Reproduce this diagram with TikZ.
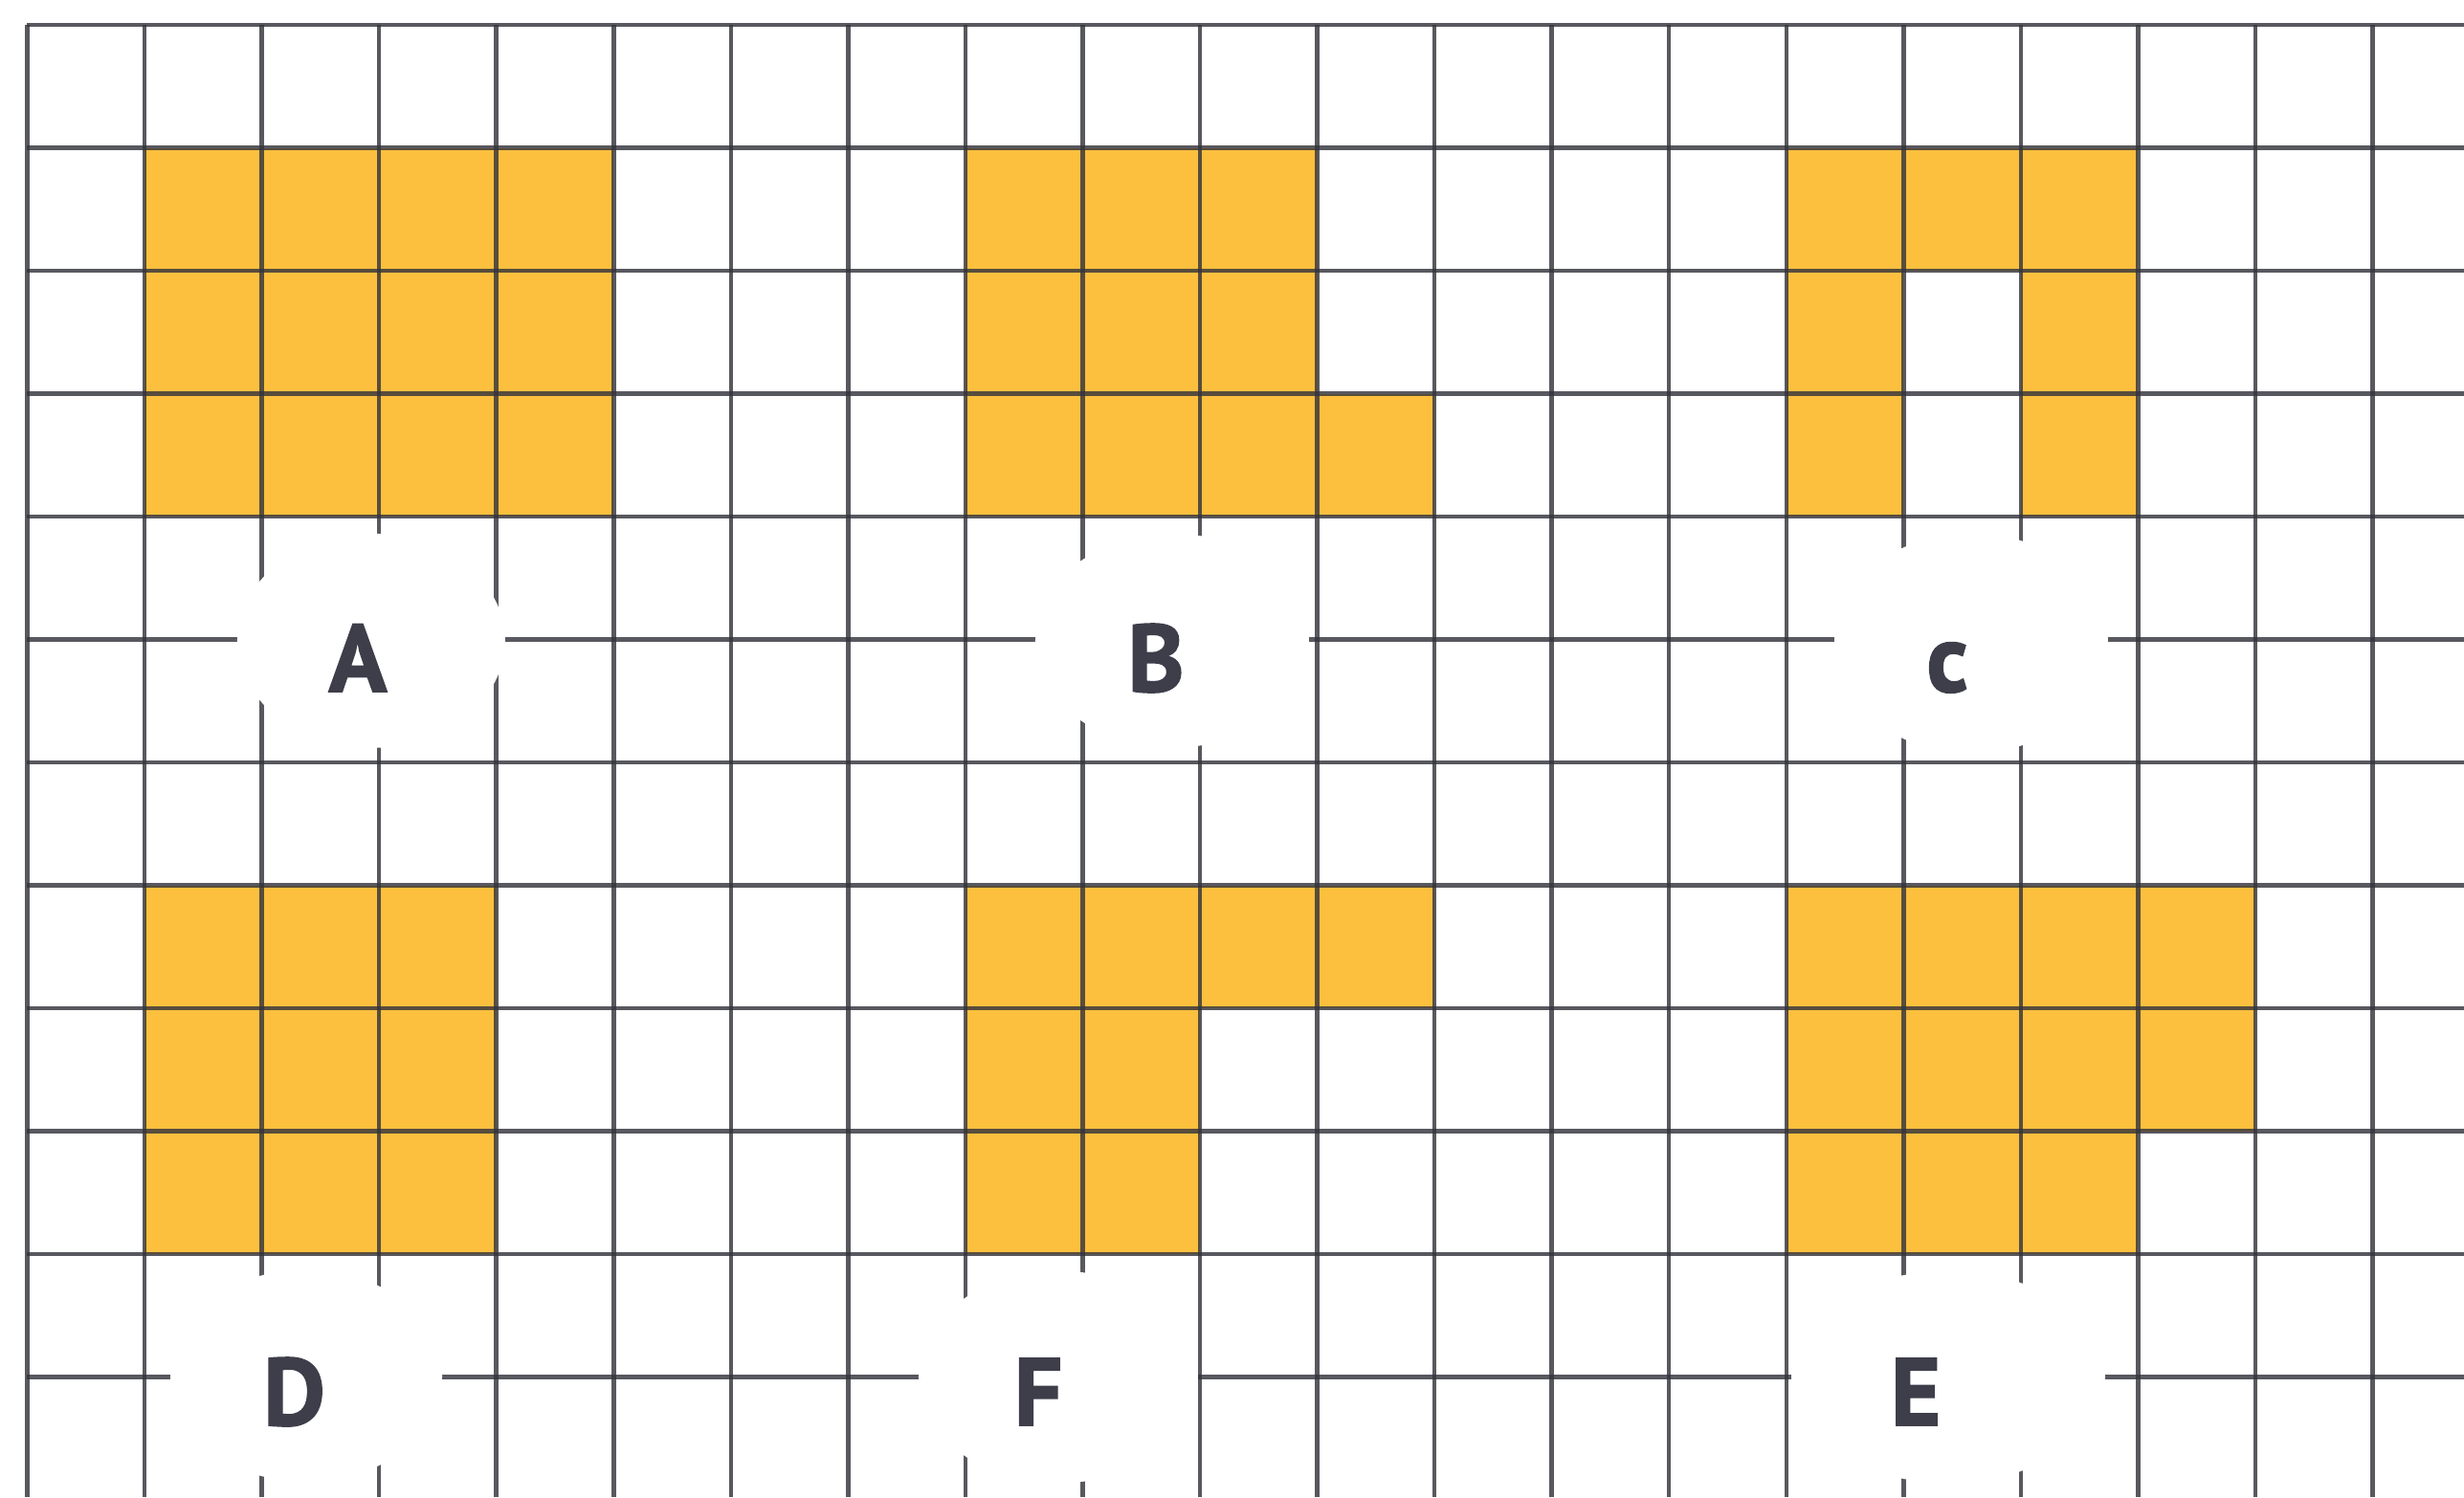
\documentclass[tikz,border=0pt]{standalone}
\usepackage{fontspec}
\setmainfont{PT Sans}[BoldFeatures={FakeBold=1.6}]
\usetikzlibrary{shapes.geometric}
\definecolor{cellorange}{RGB}{252,192,62}
\definecolor{gridgray}{RGB}{52,52,60}
\definecolor{labelgray}{RGB}{62,62,74}
\tikzset{
  gridline/.style={draw=gridgray, draw opacity=0.82, line width=4.5pt},
  filled/.style={fill=cellorange},
  blank/.style={ellipse, fill=white, draw=none, inner sep=0pt},
  letter/.style={anchor=base, inner sep=0pt, text=labelgray,
    font=\bfseries\fontsize{100}{100}\selectfont}
}
\newcommand{\orangecell}[2]{\fill[filled] (#1,#2) rectangle (#1+1,#2+1);}
\begin{document}
\begin{tikzpicture}[x=122.55pt, y=-128.5pt]
\useasboundingbox[fill=white] (-0.23255,-0.20233) rectangle (20.7793,11.9767);
% shape A
\foreach \c in {1,2,3,4}{\foreach \r in {1,2,3}{\orangecell{\c}{\r}}}
% shape B
\foreach \c in {8,9,10}{\foreach \r in {1,2,3}{\orangecell{\c}{\r}}}
\orangecell{11}{3}
% shape C
\foreach \c in {15,16,17}{\orangecell{\c}{1}}
\foreach \c in {15,17}{\foreach \r in {2,3}{\orangecell{\c}{\r}}}
% shape D
\foreach \c in {1,2,3}{\foreach \r in {7,8,9}{\orangecell{\c}{\r}}}
% shape F
\foreach \c in {8,9,10,11}{\orangecell{\c}{7}}
\foreach \c in {8,9}{\foreach \r in {8,9}{\orangecell{\c}{\r}}}
% shape E
\foreach \c in {15,16,17,18}{\foreach \r in {7,8}{\orangecell{\c}{\r}}}
\foreach \c in {15,16,17}{\orangecell{\c}{9}}
% grid
\foreach \k in {0,...,20}{\draw[gridline] (\k,0) -- (\k,11.9767);}
\foreach \j in {0,...,11}{\draw[gridline] (0,\j) -- (20.7793,\j);}
% label backgrounds
\node[blank, minimum width=280pt, minimum height=224pt] (bgA) at (2.933,5.01) {};
\node[blank, minimum width=286pt, minimum height=224pt] (bgB) at (9.763,5.01) {};
\node[blank, minimum width=286pt, minimum height=230pt] (bgC) at (16.577,5.03) {};
\node[blank, minimum width=284pt, minimum height=222pt] (bgD) at (2.379,10.99) {};
\node[blank, minimum width=292pt, minimum height=222pt] (bgF) at (8.792,11.0) {};
\node[blank, minimum width=328pt, minimum height=222pt] (bgE) at (16.381,11.0) {};
% labels
\node[letter] (labA) at (2.819,5.424) {A};
\node[letter] (labB) at (9.625,5.424) {B};
\node[letter] (labC) at (16.373,5.424) {c};
\node[letter] (labD) at (2.277,11.393) {D};
\node[letter] (labF) at (8.621,11.393) {F};
\node[letter] (labE) at (16.104,11.393) {E};
\end{tikzpicture}
\end{document}
